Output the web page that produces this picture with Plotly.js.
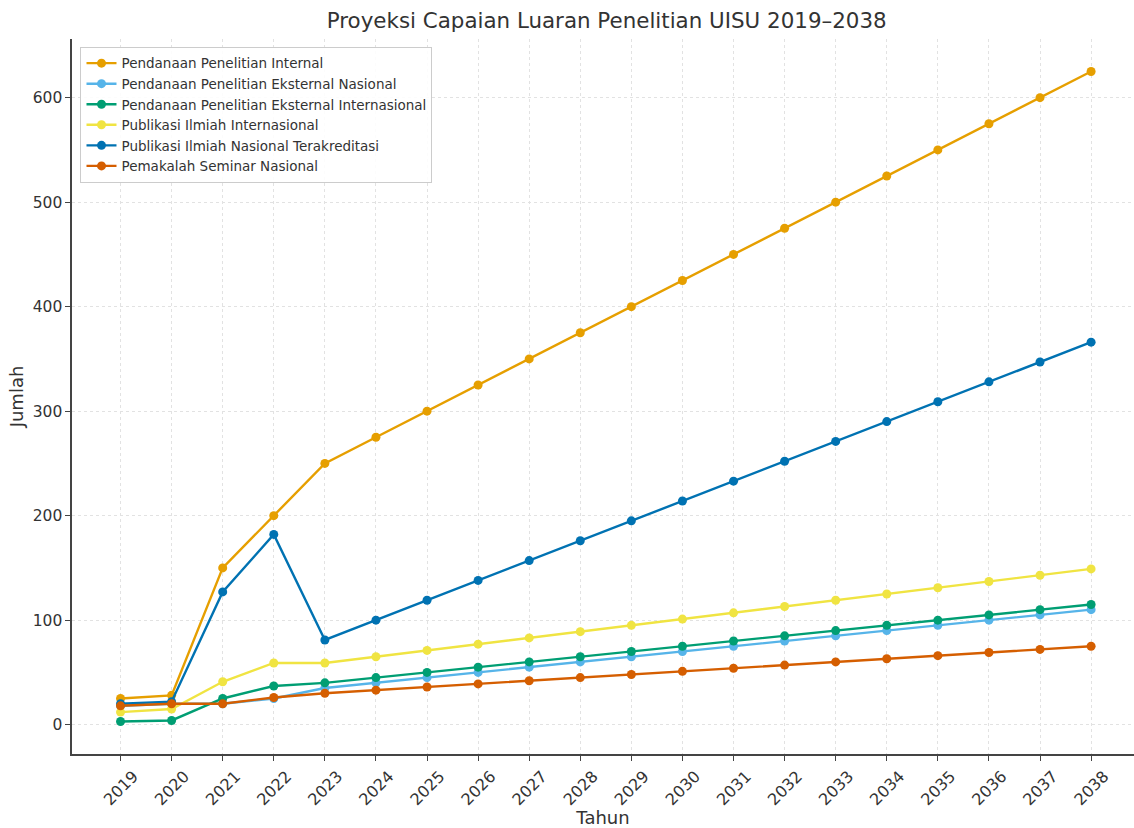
<!DOCTYPE html>
<html>
<head>
<meta charset="utf-8">
<script src="https://cdn.plot.ly/plotly-3.0.1.min.js"></script>
<style>html,body{margin:0;padding:0;background:#fff}#chart{width:1134px;height:828px}</style>
</head>
<body>
<div id="chart"></div>
<script>
const years = [2019,2020,2021,2022,2023,2024,2025,2026,2027,2028,2029,2030,2031,2032,2033,2034,2035,2036,2037,2038];
const seriesNames = [
  "Pendanaan Penelitian Internal",
  "Pendanaan Penelitian Eksternal Nasional",
  "Pendanaan Penelitian Eksternal Internasional",
  "Publikasi Ilmiah Internasional",
  "Publikasi Ilmiah Nasional Terakreditasi",
  "Pemakalah Seminar Nasional"
];
const internal = [25,28,150,200,250,275,300,325,350,375,400,425,450,475,500,525,550,575,600,625];
const eksternalNasional = [18,20,20,25,35,40,45,50,55,60,65,70,75,80,85,90,95,100,105,110];
const eksternalInternasional = [3,4,25,37,40,45,50,55,60,65,70,75,80,85,90,95,100,105,110,115];
const publikasiInternasional = [12,15,41,59,59,65,71,77,83,89,95,101,107,113,119,125,131,137,143,149];
const publikasiNasional = [20,22,127,182,81,100,119,138,157,176,195,214,233,252,271,290,309,328,347,366];
const seminarNasional = [18,20,20,26,30,33,36,39,42,45,48,51,54,57,60,63,66,69,72,75];

const values = [internal, eksternalNasional, eksternalInternasional, publikasiInternasional, publikasiNasional, seminarNasional];
const colors = ["#E69F00","#56B4E9","#009E73","#F0E442","#0072B2","#D55E00"];

const traces = values.map((v,i)=>({
  x: years, y: v, name: seriesNames[i], type: 'scatter', mode: 'lines+markers',
  line: {color: colors[i], width: 2.4},
  marker: {color: colors[i], size: 9}
}));

const font = "DejaVu Sans, sans-serif";
const layout = {
  width: 1134, height: 828,
  margin: {l: 72, r: 0, t: 39, b: 74},
  paper_bgcolor: '#fff', plot_bgcolor: '#fff',
  font: {family: font, color: '#333', size: 15},
  title: {text: 'Proyeksi Capaian Luaran Penelitian UISU 2019–2038', x: 0.535, xanchor: 'center', y: 0.975, yanchor: 'middle', font: {family: font, size: 21.4, color: '#333'}},
  xaxis: {
    range: [2018.05, 2038.84], tickvals: years, ticktext: years.map(String), tickangle: -45,
    ticklabelshift: 13, ticklabelstandoff: 0,
    showgrid: true, gridcolor: '#e2e2e2', griddash: '3px,3px', gridwidth: 1,
    showline: true, linecolor: '#444', linewidth: 1.6, zeroline: false,
    ticks: 'outside', ticklen: 5, tickcolor: '#444', tickfont: {size: 16, color: '#333'},
    title: {text: 'Tahun', font: {size: 18, color: '#333'}, standoff: 6}
  },
  yaxis: {
    range: [-28.1, 656.1], tickvals: [0,100,200,300,400,500,600],
    showgrid: true, gridcolor: '#e2e2e2', griddash: '3px,3px', gridwidth: 1,
    showline: true, linecolor: '#444', linewidth: 1.6, zeroline: false,
    ticks: 'outside', ticklen: 5, tickcolor: '#444', tickfont: {size: 15.5, color: '#333'},
    title: {text: 'Jumlah', font: {size: 18, color: '#333'}, standoff: 4}
  },
  legend: {
    x: 0.008, y: 0.989, xanchor: 'left', yanchor: 'top',
    bgcolor: 'rgba(255,255,255,0.9)', bordercolor: '#cccccc', borderwidth: 1,
    font: {family: font, size: 13.5, color: '#333'}, tracegroupgap: 0
  },
  showlegend: true
};

Plotly.newPlot('chart', traces, layout, {displayModeBar: false, staticPlot: true});
</script>
</body>
</html>
